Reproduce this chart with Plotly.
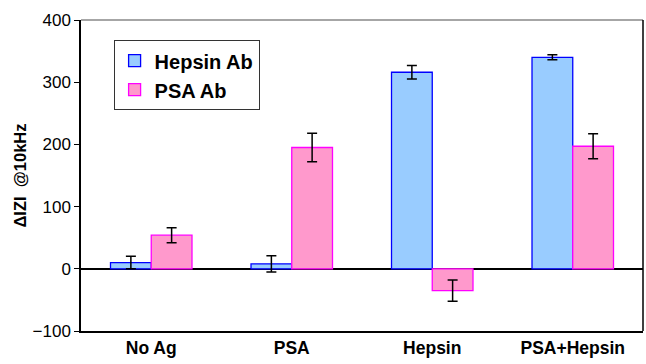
import plotly.graph_objects as go

categories = ["No Ag", "PSA", "Hepsin", "PSA+Hepsin"]
hepsin_ab = [10, 8, 316, 340]
hepsin_err = [10, 13, 11, 4]
psa_ab = [54, 195, -35, 197]
psa_err = [12, 23, 17, 20]
y_ticks = [-100, 0, 100, 200, 300, 400]

fig = go.Figure()
fig.add_trace(go.Bar(
    name="Hepsin Ab", x=categories, y=hepsin_ab,
    marker=dict(color="#99CCFF", line=dict(color="#0000FF", width=1.3)),
    error_y=dict(type="data", array=hepsin_err, color="black", thickness=1.5, width=5),
))
fig.add_trace(go.Bar(
    name="PSA Ab", x=categories, y=psa_ab,
    marker=dict(color="#FF99CC", line=dict(color="#FF00FF", width=1.3)),
    error_y=dict(type="data", array=psa_err, color="black", thickness=1.5, width=5),
))

font_family = "Liberation Sans, Arial, sans-serif"
fig.update_layout(
    width=646, height=364,
    margin=dict(l=81, r=3, t=20, b=33),
    paper_bgcolor="white", plot_bgcolor="white",
    barmode="group", bargap=0.42, bargroupgap=0,
    font=dict(family=font_family, size=17, color="black"),
    showlegend=True,
    legend=dict(
        x=0.058, y=0.935, xanchor="left", yanchor="top",
        bgcolor="white", bordercolor="#333333", borderwidth=1,
        font=dict(size=20, family=font_family, weight="bold"),
        itemwidth=30, tracegroupgap=0,
    ),
    xaxis=dict(
        showline=True, linecolor="black", linewidth=1.5,
        ticks="", showgrid=False,
        tickfont=dict(size=17.5, family=font_family, weight="bold"),
    ),
    yaxis=dict(
        range=[-100, 400], tickvals=y_ticks,
        showline=True, linecolor="black", linewidth=1.5,
        ticks="outside", ticklen=5, tickcolor="black", tickwidth=1.2,
        showgrid=False,
        zeroline=True, zerolinecolor="black", zerolinewidth=1.5,
        tickfont=dict(size=17),
        title=dict(text="ΔIZI  @10kHz", font=dict(size=16.5, weight="bold"), standoff=2),
    ),
    shapes=[
        dict(type="line", xref="paper", yref="paper", x0=0, x1=1, y0=1, y1=1,
             line=dict(color="#888888", width=1.5)),
        dict(type="line", xref="paper", yref="paper", x0=1, x1=1, y0=0, y1=1,
             line=dict(color="black", width=1.5)),
    ],
)

fig.write_html("out.html")
